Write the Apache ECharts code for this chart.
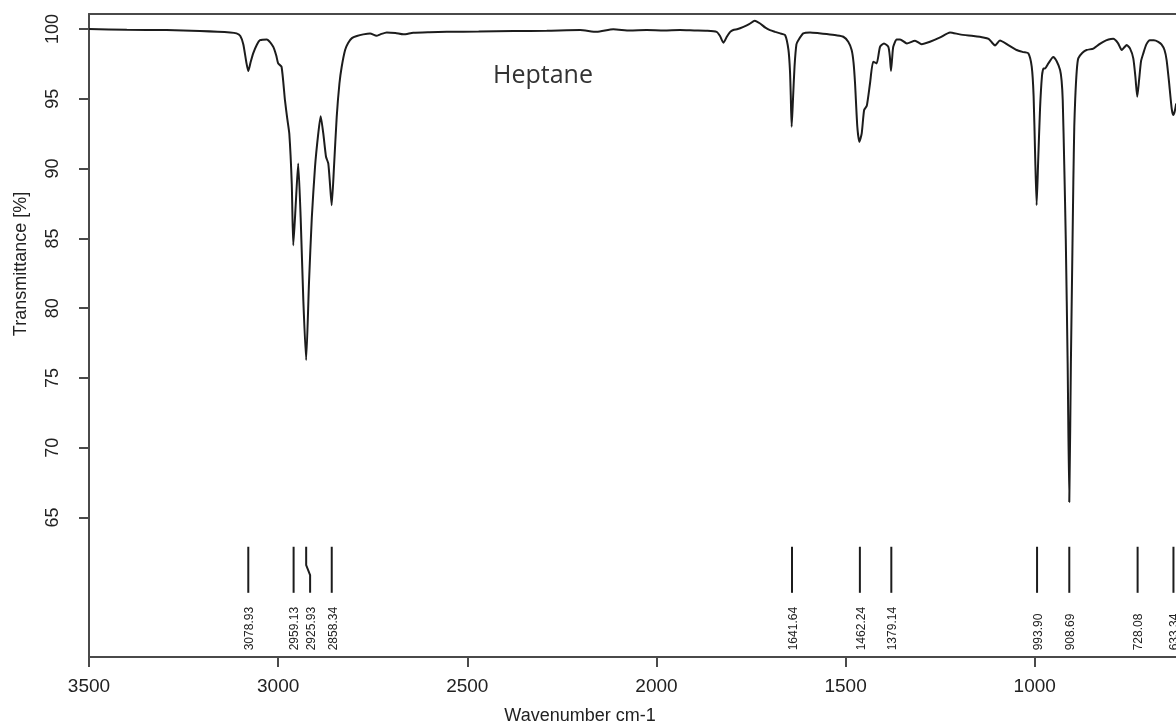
<!DOCTYPE html>
<html>
<head>
<meta charset="utf-8">
<script src="https://cdn.jsdelivr.net/npm/echarts@6/dist/echarts.min.js"></script>
<style>
  html, body { margin: 0; padding: 0; background: #fff; }
  #chart { width: 1176px; height: 726px; }
</style>
</head>
<body>
<div id="chart"></div>
<script>
// spectrum (wavenumber cm-1 / transmittance %)
const wavenumbers = [
  3500, 3400, 3295, 3207, 3127, 3110, 3100, 3092, 3084, 3079, 3073, 3066, 3056, 3048, 3030, 3013,
  3005, 3000, 2991, 2982, 2976, 2970.5, 2964, 2960, 2953, 2947, 2940.5, 2933.5, 2926, 2918.5, 2911, 2902.6,
  2894, 2887.6, 2880.6, 2873.5, 2867.5, 2863, 2858.5, 2852.4, 2845.2, 2838, 2832, 2823, 2815, 2805,
  2792, 2775, 2757, 2740, 2730, 2713, 2690, 2669, 2643, 2600, 2554, 2470, 2378, 2290, 2202, 2158,
  2114, 2070, 2026, 1980, 1938, 1900, 1867, 1841, 1832, 1823, 1814, 1805, 1797, 1785, 1770, 1755,
  1740, 1726, 1712, 1700, 1686, 1673, 1660, 1651, 1647, 1645, 1642.6, 1639, 1635, 1630, 1625, 1612,
  1594, 1570, 1550, 1525, 1506, 1493, 1484, 1479, 1475, 1469, 1463.7, 1457.5, 1451, 1444, 1435.5, 1427,
  1418, 1409, 1398.5, 1387, 1383, 1380, 1377, 1374, 1365, 1356, 1338, 1316.5, 1299, 1277, 1250, 1224,
  1198, 1162, 1136, 1122, 1112, 1105, 1092, 1070, 1048, 1030, 1017, 1008, 1003, 999, 995, 991,
  986, 981, 977, 973, 964, 951, 942, 933, 929, 926, 922, 918, 913, 908.7, 904.5, 900.5,
  898, 895.5, 893, 889, 885, 874, 863, 845, 830, 819, 805, 792.5, 780, 770, 763, 757,
  748, 739.5, 734, 729, 724, 719, 713, 705, 695.6, 685, 673.6, 665, 657, 651.4, 645, 638,
  634, 630, 626
];
const transmittance = [
  100.0, 99.95, 99.93, 99.86, 99.76, 99.69, 99.5, 98.9, 97.6, 96.99, 97.6, 98.26, 98.9, 99.2, 99.26, 98.73,
  98.1, 97.54, 97.3, 94.9, 93.6, 92.5, 88.9, 84.5, 87.7, 90.37, 86.5, 80.6, 76.27, 81.8, 86.5, 90.1,
  92.5, 93.76, 92.5, 90.85, 90.37, 88.9, 87.38, 90.1, 93.71, 96.1, 97.3, 98.5, 99.0, 99.35,
  99.5, 99.62, 99.69, 99.52, 99.62, 99.76, 99.72, 99.62, 99.74, 99.78, 99.8, 99.82, 99.86, 99.88, 99.93, 99.8,
  99.98, 99.9, 99.93, 99.9, 99.93, 99.9, 99.88, 99.8, 99.5, 99.02, 99.45, 99.8, 99.93, 100.0, 100.16, 100.35,
  100.6, 100.4, 100.1, 99.93, 99.8, 99.69, 99.57, 98.5, 97.0, 95.3, 93.0, 95.0, 97.3, 98.9, 99.2, 99.69,
  99.76, 99.7, 99.64, 99.55, 99.45, 99.09, 98.5, 97.6, 96.1, 93.0, 91.92, 92.5, 94.2, 94.5, 96.1, 97.66,
  97.54, 98.73, 98.97, 98.73, 98.0, 97.0, 97.9, 98.73, 99.26, 99.26, 98.97, 99.16, 98.92, 99.09, 99.4, 99.76,
  99.62, 99.5, 99.4, 99.3, 99.0, 98.82, 99.18, 98.85, 98.5, 98.35, 98.26, 97.3, 95.2, 91.0, 87.38, 90.5,
  94.3, 96.6, 97.18, 97.18, 97.54, 98.0, 97.7, 97.06, 96.3, 94.9, 90.3, 85.0, 76.0, 66.1, 76.0, 84.0,
  89.0, 93.0, 95.0, 97.0, 97.9, 98.3, 98.5, 98.6, 98.9, 99.09, 99.25, 99.3, 99.0, 98.5, 98.7, 98.85,
  98.6, 97.9, 96.6, 95.15, 96.4, 97.7, 98.26, 98.9, 99.2, 99.2, 99.09, 98.9, 98.5, 97.78, 96.2, 94.3,
  93.84, 94.1, 94.67
];

// marked peaks
const peakWavenumbers = [3078.93, 2959.13, 2925.93, 2858.34, 1641.64, 1462.24, 1379.14, 993.90, 908.69, 728.08, 633.34];
const peakLabelWavenumbers = [3078.93, 2959.13, 2915.5, 2858.34, 1641.64, 1462.24, 1379.14, 993.90, 908.69, 728.08, 633.34];
const peakLabels = ['3078.93', '2959.13', '2925.93', '2858.34', '1641.64', '1462.24', '1379.14', '993.90', '908.69', '728.08', '633.34'];

const xTicks = [3500, 3000, 2500, 2000, 1500, 1000];
const yTicks = [65, 70, 75, 80, 85, 90, 95, 100];

const chart = echarts.init(document.getElementById('chart'));

const boxColor = '#4a4a4a';
const inkColor = '#1c1c1c';
const textColor = '#222';
const sansFont = '"Liberation Sans", Arial, sans-serif';

// peak marker: short stick, with a small jog when the label had to move
function renderPeak(params, api) {
  const i = params.dataIndex;
  const wn = api.value(0);
  const lw = api.value(1);
  const top = api.coord([wn, 62.9]);
  const bot = api.coord([lw, 59.6]);
  let points = [top, bot];
  if (lw !== wn) {
    points = [top, api.coord([wn, 61.58]), api.coord([lw, 60.86]), bot];
  }
  const txt = api.coord([lw, 55.48]);
  return {
    type: 'group',
    children: [
      {
        type: 'polyline',
        shape: { points: points },
        style: { stroke: inkColor, lineWidth: 2, fill: null }
      },
      {
        type: 'text',
        x: txt[0] + 1.5,
        y: txt[1],
        rotation: Math.PI / 2,
        style: {
          text: peakLabels[i],
          font: '12px ' + sansFont,
          fill: textColor,
          align: 'left',
          verticalAlign: 'middle'
        }
      }
    ]
  };
}

chart.setOption({
  animation: false,
  grid: { left: 89, right: 0, top: 14, bottom: 69 },
  xAxis: [
    {
      type: 'value',
      inverse: true,
      min: 626.6,
      max: 3500,
      axisLine: { show: true, onZero: false, lineStyle: { color: boxColor, width: 2 } },
      axisTick: { show: true, length: 10, customValues: xTicks, lineStyle: { color: boxColor, width: 2 } },
      axisLabel: {
        customValues: xTicks,
        formatter: v => String(v),
        fontSize: 19,
        margin: 20,
        color: textColor,
        fontFamily: sansFont
      },
      splitLine: { show: false }
    },
    {
      type: 'value',
      position: 'top',
      inverse: true,
      min: 626.6,
      max: 3500,
      axisLine: { show: true, onZero: false, lineStyle: { color: boxColor, width: 2 } },
      axisTick: { show: false },
      axisLabel: { show: false },
      splitLine: { show: false }
    }
  ],
  yAxis: {
    type: 'value',
    min: 55,
    max: 101.08,
    axisLine: { show: true, onZero: false, lineStyle: { color: boxColor, width: 2 } },
    axisTick: { show: true, length: 10, customValues: yTicks, lineStyle: { color: boxColor, width: 2 } },
    axisLabel: {
      customValues: yTicks,
      formatter: v => String(v),
      rotate: 90,
      fontSize: 18,
      margin: 27,
      color: textColor,
      fontFamily: sansFont
    },
    splitLine: { show: false }
  },
  graphic: [
    {
      type: 'text',
      x: 21,
      y: 264,
      rotation: Math.PI / 2,
      style: { text: 'Transmittance [%]', font: '18px ' + sansFont, fill: textColor, align: 'center', verticalAlign: 'middle' }
    },
    {
      type: 'text',
      x: 580,
      y: 716,
      style: { text: 'Wavenumber cm-1', font: '18px ' + sansFont, fill: textColor, align: 'center', verticalAlign: 'middle' }
    },
    {
      type: 'text',
      x: 493,
      y: 76,
      style: { text: 'Heptane', font: '25px "Open Sans", sans-serif', fill: '#333', align: 'left', verticalAlign: 'middle' }
    }
  ],
  series: [
    {
      name: 'Heptane',
      type: 'line',
      xAxisIndex: 0,
      data: wavenumbers.map((w, i) => [w, transmittance[i]]),
      showSymbol: false,
      smooth: 0.2,
      clip: true,
      lineStyle: { color: inkColor, width: 2 }
    },
    {
      name: 'peaks',
      type: 'custom',
      xAxisIndex: 0,
      data: peakWavenumbers.map((w, i) => [w, peakLabelWavenumbers[i]]),
      encode: { x: 0 },
      renderItem: renderPeak
    }
  ]
});
</script>
</body>
</html>
